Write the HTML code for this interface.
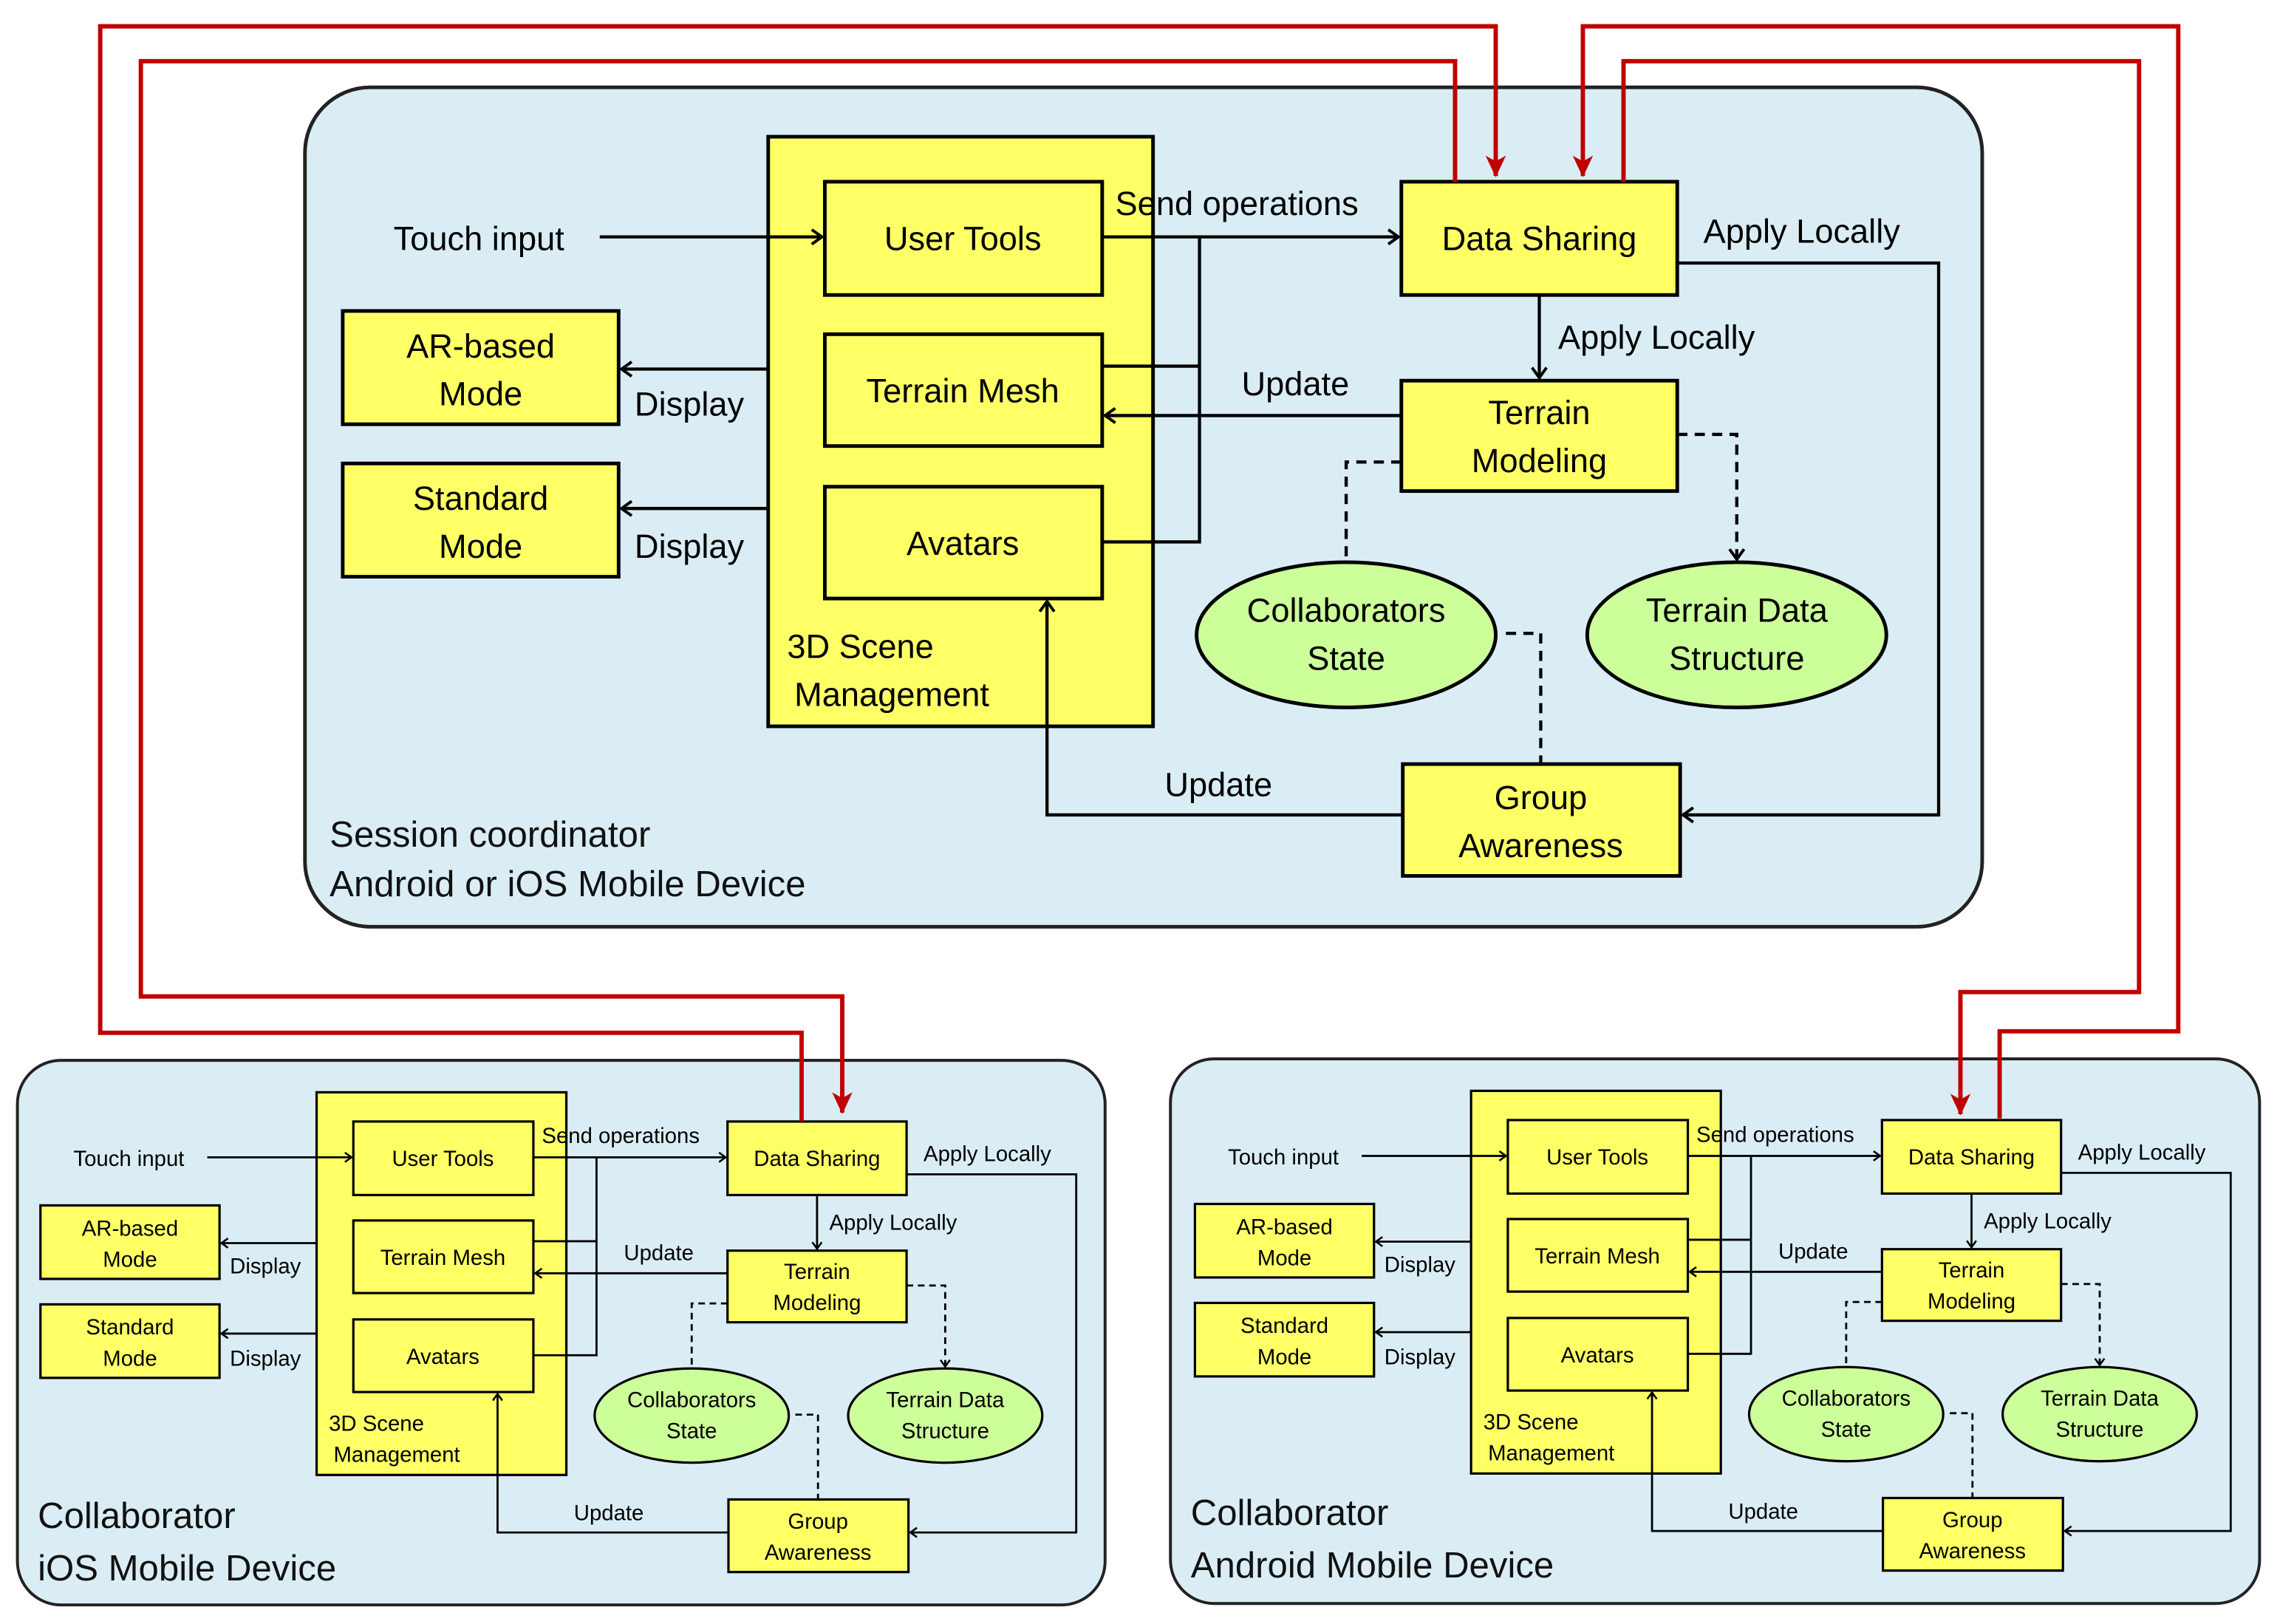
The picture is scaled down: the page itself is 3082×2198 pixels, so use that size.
<!DOCTYPE html>
<html><head><meta charset="utf-8"><style>html,body{margin:0;padding:0;background:#fff}svg{display:block}</style></head>
<body>
<svg width="3082" height="2198" viewBox="0 0 1568 1118" xmlns="http://www.w3.org/2000/svg" font-family="Liberation Sans, sans-serif">
<defs>
<marker id="a" markerWidth="12" markerHeight="12" refX="10" refY="6" orient="auto" markerUnits="userSpaceOnUse"><path d="M3,1 L10,6 L3,11" fill="none" stroke="#000" stroke-width="2"/></marker>
<marker id="r" markerWidth="16" markerHeight="16" refX="14" refY="8" orient="auto" markerUnits="userSpaceOnUse"><path d="M0,1 L15,8 L0,15 L4,8 Z" fill="#c00000"/></marker>
</defs>
<rect x="0" y="0" width="1568" height="1118" fill="#fff"/>
<!-- panels -->
<rect x="210" y="60" width="1155" height="578" rx="45" fill="#daedf4" stroke="#222" stroke-width="2.5"/>
<rect x="12" y="730" width="749" height="375" rx="30" fill="#daedf4" stroke="#222" stroke-width="2"/>
<rect x="806" y="729" width="750" height="375" rx="30" fill="#daedf4" stroke="#222" stroke-width="2"/>

<g id="top">
<g fill="#ffff66" stroke="#000" stroke-width="2.5">
<rect x="529" y="94" width="265" height="406"/>
<rect x="568" y="125" width="191" height="78"/>
<rect x="568" y="230" width="191" height="77"/>
<rect x="568" y="335" width="191" height="77"/>
<rect x="236" y="214" width="190" height="78"/>
<rect x="236" y="319" width="190" height="78"/>
<rect x="965" y="125" width="190" height="78"/>
<rect x="965" y="262" width="190" height="76"/>
<rect x="966" y="526" width="191" height="77"/>
</g>
<g fill="#ccff99" stroke="#000" stroke-width="2.5">
<ellipse cx="927" cy="437" rx="103" ry="50"/>
<ellipse cx="1196" cy="437" rx="103" ry="50"/>
</g>
<g fill="none" stroke="#000" stroke-width="2.2">
<path d="M413,163 H566" marker-end="url(#a)"/>
<path d="M529,254 H428" marker-end="url(#a)"/>
<path d="M529,350 H428" marker-end="url(#a)"/>
<path d="M759,163 H963" marker-end="url(#a)"/>
<path d="M826,163 V373 H759 M759,252 H826"/>
<path d="M965,286 H761" marker-end="url(#a)"/>
<path d="M1060,203 V260" marker-end="url(#a)"/>
<path d="M1155,181 H1335 V561 H1159" marker-end="url(#a)"/>
<path d="M966,561 H721 V414" marker-end="url(#a)"/>
<path d="M965,318 H927 V387" stroke-dasharray="7,5"/>
<path d="M1155,299 H1196 V385" stroke-dasharray="7,5" marker-end="url(#a)"/>
<path d="M1037,436 H1061 V526" stroke-dasharray="7,5"/>
</g>
<g font-size="23" fill="#000" text-anchor="middle">
<text x="663" y="172">User Tools</text>
<text x="663" y="277">Terrain Mesh</text>
<text x="663" y="382">Avatars</text>
<text x="331" y="246">AR-based</text><text x="331" y="279">Mode</text>
<text x="331" y="351">Standard</text><text x="331" y="384">Mode</text>
<text x="1060" y="172">Data Sharing</text>
<text x="1060" y="292">Terrain</text><text x="1060" y="325">Modeling</text>
<text x="1061" y="557">Group</text><text x="1061" y="590">Awareness</text>
<text x="927" y="428">Collaborators</text><text x="927" y="461">State</text>
<text x="1196" y="428">Terrain Data</text><text x="1196" y="461">Structure</text>
</g>
<g font-size="23" fill="#000">
<text x="271" y="172">Touch input</text>
<text x="437" y="286">Display</text>
<text x="437" y="384">Display</text>
<text x="768" y="148">Send operations</text>
<text x="855" y="272">Update</text>
<text x="1073" y="240">Apply Locally</text>
<text x="1173" y="167">Apply Locally</text>
<text x="802" y="548">Update</text>
<text x="542" y="453">3D Scene</text>
<text x="547" y="486">Management</text>
</g>
</g>

<!-- iOS collaborator -->
<g transform="translate(-125.3,691) scale(0.649)">
<g fill="#ffff66" stroke="#000" stroke-width="2.5">
<rect x="529" y="94" width="265" height="406"/>
<rect x="568" y="125" width="191" height="78"/>
<rect x="568" y="230" width="191" height="77"/>
<rect x="568" y="335" width="191" height="77"/>
<rect x="236" y="214" width="190" height="78"/>
<rect x="236" y="319" width="190" height="78"/>
<rect x="965" y="125" width="190" height="78"/>
<rect x="965" y="262" width="190" height="76"/>
<rect x="966" y="526" width="191" height="77"/>
</g>
<g fill="#ccff99" stroke="#000" stroke-width="2.5">
<ellipse cx="927" cy="437" rx="103" ry="50"/>
<ellipse cx="1196" cy="437" rx="103" ry="50"/>
</g>
<g fill="none" stroke="#000" stroke-width="2.2">
<path d="M413,163 H566" marker-end="url(#a)"/>
<path d="M529,254 H428" marker-end="url(#a)"/>
<path d="M529,350 H428" marker-end="url(#a)"/>
<path d="M759,163 H963" marker-end="url(#a)"/>
<path d="M826,163 V373 H759 M759,252 H826"/>
<path d="M965,286 H761" marker-end="url(#a)"/>
<path d="M1060,203 V260" marker-end="url(#a)"/>
<path d="M1155,181 H1335 V561 H1159" marker-end="url(#a)"/>
<path d="M966,561 H721 V414" marker-end="url(#a)"/>
<path d="M965,318 H927 V387" stroke-dasharray="7,5"/>
<path d="M1155,299 H1196 V385" stroke-dasharray="7,5" marker-end="url(#a)"/>
<path d="M1037,436 H1061 V526" stroke-dasharray="7,5"/>
</g>
<g font-size="23" fill="#000" text-anchor="middle">
<text x="663" y="172">User Tools</text>
<text x="663" y="277">Terrain Mesh</text>
<text x="663" y="382">Avatars</text>
<text x="331" y="246">AR-based</text><text x="331" y="279">Mode</text>
<text x="331" y="351">Standard</text><text x="331" y="384">Mode</text>
<text x="1060" y="172">Data Sharing</text>
<text x="1060" y="292">Terrain</text><text x="1060" y="325">Modeling</text>
<text x="1061" y="557">Group</text><text x="1061" y="590">Awareness</text>
<text x="927" y="428">Collaborators</text><text x="927" y="461">State</text>
<text x="1196" y="428">Terrain Data</text><text x="1196" y="461">Structure</text>
</g>
<g font-size="23" fill="#000">
<text x="271" y="172">Touch input</text>
<text x="437" y="286">Display</text>
<text x="437" y="384">Display</text>
<text x="768" y="148">Send operations</text>
<text x="855" y="272">Update</text>
<text x="1073" y="240">Apply Locally</text>
<text x="1173" y="167">Apply Locally</text>
<text x="802" y="548">Update</text>
<text x="542" y="453">3D Scene</text>
<text x="547" y="486">Management</text>
</g>
</g>

<!-- Android collaborator -->
<g transform="translate(669.7,690) scale(0.649)">
<g fill="#ffff66" stroke="#000" stroke-width="2.5">
<rect x="529" y="94" width="265" height="406"/>
<rect x="568" y="125" width="191" height="78"/>
<rect x="568" y="230" width="191" height="77"/>
<rect x="568" y="335" width="191" height="77"/>
<rect x="236" y="214" width="190" height="78"/>
<rect x="236" y="319" width="190" height="78"/>
<rect x="965" y="125" width="190" height="78"/>
<rect x="965" y="262" width="190" height="76"/>
<rect x="966" y="526" width="191" height="77"/>
</g>
<g fill="#ccff99" stroke="#000" stroke-width="2.5">
<ellipse cx="927" cy="437" rx="103" ry="50"/>
<ellipse cx="1196" cy="437" rx="103" ry="50"/>
</g>
<g fill="none" stroke="#000" stroke-width="2.2">
<path d="M413,163 H566" marker-end="url(#a)"/>
<path d="M529,254 H428" marker-end="url(#a)"/>
<path d="M529,350 H428" marker-end="url(#a)"/>
<path d="M759,163 H963" marker-end="url(#a)"/>
<path d="M826,163 V373 H759 M759,252 H826"/>
<path d="M965,286 H761" marker-end="url(#a)"/>
<path d="M1060,203 V260" marker-end="url(#a)"/>
<path d="M1155,181 H1335 V561 H1159" marker-end="url(#a)"/>
<path d="M966,561 H721 V414" marker-end="url(#a)"/>
<path d="M965,318 H927 V387" stroke-dasharray="7,5"/>
<path d="M1155,299 H1196 V385" stroke-dasharray="7,5" marker-end="url(#a)"/>
<path d="M1037,436 H1061 V526" stroke-dasharray="7,5"/>
</g>
<g font-size="23" fill="#000" text-anchor="middle">
<text x="663" y="172">User Tools</text>
<text x="663" y="277">Terrain Mesh</text>
<text x="663" y="382">Avatars</text>
<text x="331" y="246">AR-based</text><text x="331" y="279">Mode</text>
<text x="331" y="351">Standard</text><text x="331" y="384">Mode</text>
<text x="1060" y="172">Data Sharing</text>
<text x="1060" y="292">Terrain</text><text x="1060" y="325">Modeling</text>
<text x="1061" y="557">Group</text><text x="1061" y="590">Awareness</text>
<text x="927" y="428">Collaborators</text><text x="927" y="461">State</text>
<text x="1196" y="428">Terrain Data</text><text x="1196" y="461">Structure</text>
</g>
<g font-size="23" fill="#000">
<text x="271" y="172">Touch input</text>
<text x="437" y="286">Display</text>
<text x="437" y="384">Display</text>
<text x="768" y="148">Send operations</text>
<text x="855" y="272">Update</text>
<text x="1073" y="240">Apply Locally</text>
<text x="1173" y="167">Apply Locally</text>
<text x="802" y="548">Update</text>
<text x="542" y="453">3D Scene</text>
<text x="547" y="486">Management</text>
</g>
</g>

<!-- panel titles -->
<g font-size="25" fill="#111">
<text x="227" y="583">Session coordinator</text>
<text x="227" y="617">Android or iOS Mobile Device</text>
<text x="26" y="1052">Collaborator</text>
<text x="26" y="1088">iOS Mobile Device</text>
<text x="820" y="1050">Collaborator</text>
<text x="820" y="1086">Android Mobile Device</text>
</g>

<!-- red links -->
<g fill="none" stroke="#c00000" stroke-width="3">
<path d="M1002,125 V42 H97 V686 H580 V766" marker-end="url(#r)"/>
<path d="M552,772 V711 H69 V18 H1030 V121" marker-end="url(#r)"/>
<path d="M1377,770 V710 H1500 V18 H1090 V121" marker-end="url(#r)"/>
<path d="M1118,125 V42 H1473 V683 H1350 V767" marker-end="url(#r)"/>
</g>
</svg>
</body></html>
